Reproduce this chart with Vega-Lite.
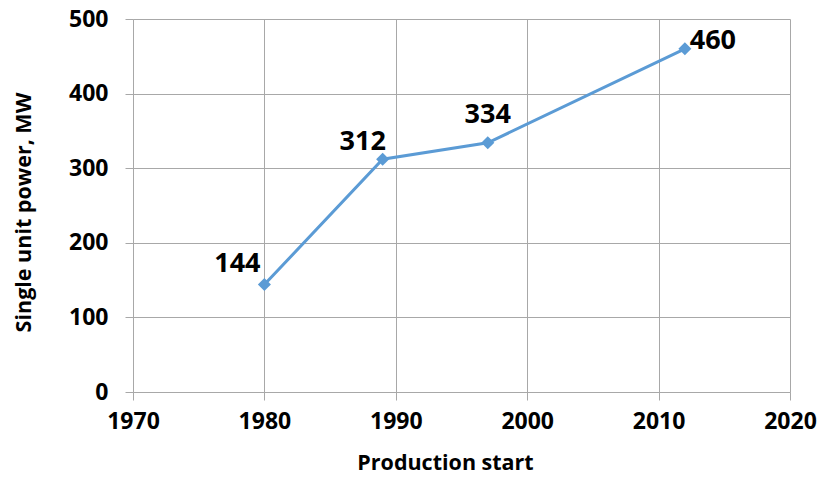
{
  "$schema": "https://vega.github.io/schema/vega-lite/v6.json",
  "width": 657,
  "height": 373,
  "autosize": {"type": "none"},
  "padding": {"left": 133, "top": 19, "right": 31, "bottom": 85},
  "background": "white",
  "config": {
    "view": {"stroke": null},
    "font": "Open Sans",
    "axis": {
      "gridColor": "#a8a8a8",
      "gridWidth": 1,
      "domainColor": "#a8a8a8",
      "tickColor": "#a8a8a8",
      "tickSize": 8,
      "labelFont": "Open Sans",
      "labelFontWeight": "bold",
      "labelFontSize": 23,
      "labelColor": "#000000",
      "labelFlush": false,
      "titleFont": "Open Sans",
      "titleFontWeight": "bold",
      "titleFontSize": 21.5,
      "titleColor": "#000000"
    }
  },
  "data": {
    "values": [
      {"year": 1980, "power": 144},
      {"year": 1989, "power": 312},
      {"year": 1997, "power": 334},
      {"year": 2012, "power": 460}
    ]
  },
  "encoding": {
    "x": {
      "field": "year",
      "type": "quantitative",
      "scale": {"domain": [1970, 2020], "nice": false, "zero": false},
      "axis": {
        "title": "Production start",
        "values": [1970, 1980, 1990, 2000, 2010, 2020],
        "format": "d",
        "labelPadding": 10,
        "titlePadding": 19,
        "titleX": 312
      }
    },
    "y": {
      "field": "power",
      "type": "quantitative",
      "scale": {"domain": [0, 500], "nice": false},
      "axis": {
        "title": "Single unit power, MW",
        "values": [0, 100, 200, 300, 400, 500],
        "labelPadding": 17,
        "titlePadding": 33,
        "titleY": 193
      }
    }
  },
  "layer": [
    {
      "mark": {"type": "line", "color": "#5b9bd5", "strokeWidth": 3},
      "encoding": {}
    },
    {
      "mark": {"type": "point", "shape": "diamond", "filled": true, "opacity": 1, "color": "#5b9bd5", "size": 170},
      "encoding": {}
    },
    {
      "transform": [{"filter": "datum.year == 1980"}],
      "mark": {"type": "text", "fontSize": 27, "fontWeight": "bold", "color": "#000000", "align": "center", "baseline": "middle", "dx": -27, "dy": -21},
      "encoding": {"text": {"field": "power", "type": "quantitative"}}
    },
    {
      "transform": [{"filter": "datum.year == 1989"}],
      "mark": {"type": "text", "fontSize": 27, "fontWeight": "bold", "color": "#000000", "align": "center", "baseline": "middle", "dx": -20, "dy": -17},
      "encoding": {"text": {"field": "power", "type": "quantitative"}}
    },
    {
      "transform": [{"filter": "datum.year == 1997"}],
      "mark": {"type": "text", "fontSize": 27, "fontWeight": "bold", "color": "#000000", "align": "center", "baseline": "middle", "dx": 0, "dy": -28},
      "encoding": {"text": {"field": "power", "type": "quantitative"}}
    },
    {
      "transform": [{"filter": "datum.year == 2012"}],
      "mark": {"type": "text", "fontSize": 27, "fontWeight": "bold", "color": "#000000", "align": "center", "baseline": "middle", "dx": 28, "dy": -8},
      "encoding": {"text": {"field": "power", "type": "quantitative"}}
    }
  ]
}
